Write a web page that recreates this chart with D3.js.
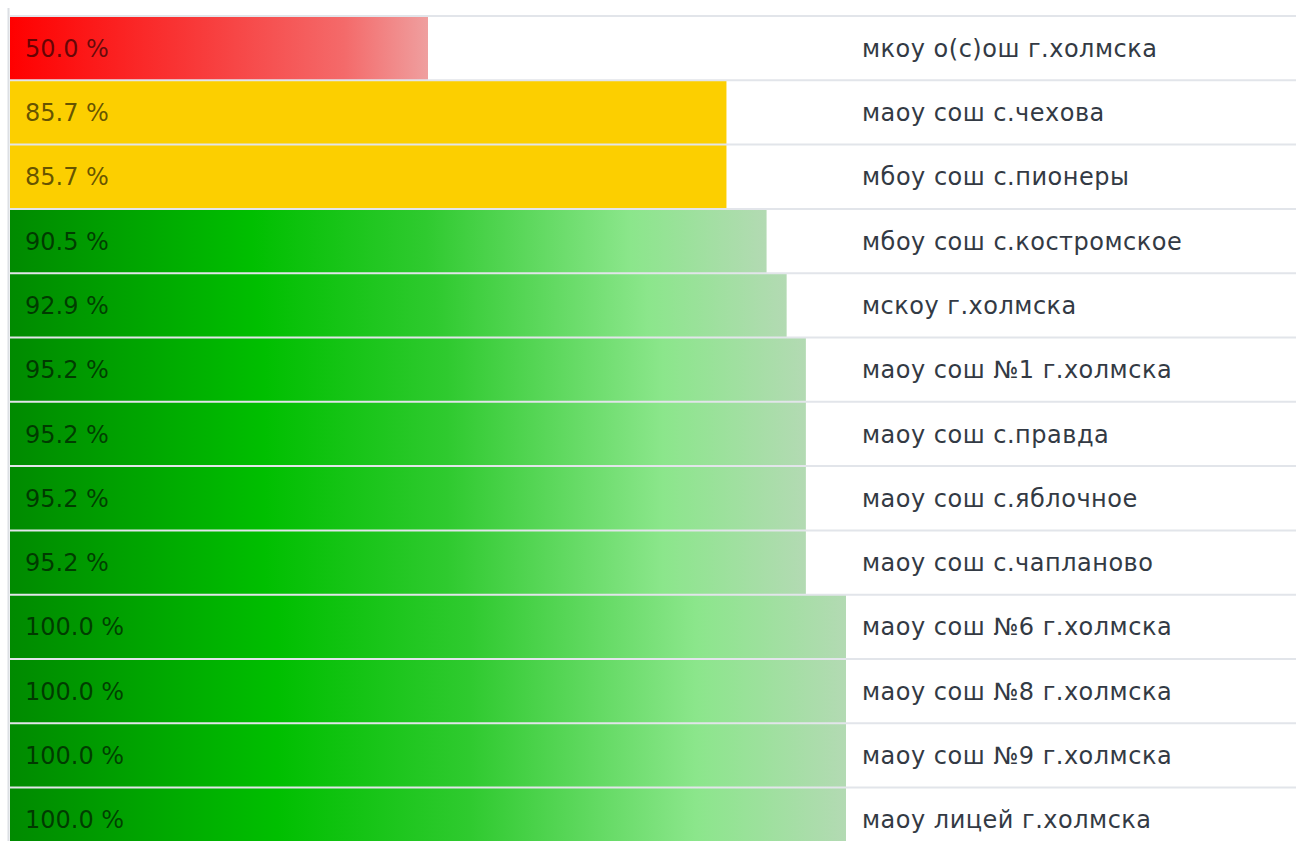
<!DOCTYPE html>
<html>
<head>
<meta charset="utf-8">
<script src="https://cdn.jsdelivr.net/npm/d3@7"></script>
<style>
  body { margin: 0; background: #fff; }
  svg { display: block; font-family: "DejaVu Sans", "Noto Sans", sans-serif; }
</style>
</head>
<body>
<script>
// schools, top to bottom
const schools = [
  "мкоу о(с)ош г.холмска",
  "маоу сош с.чехова",
  "мбоу сош с.пионеры",
  "мбоу сош с.костромское",
  "мскоу г.холмска",
  "маоу сош №1 г.холмска",
  "маоу сош с.правда",
  "маоу сош с.яблочное",
  "маоу сош с.чапланово",
  "маоу сош №6 г.холмска",
  "маоу сош №8 г.холмска",
  "маоу сош №9 г.холмска",
  "маоу лицей г.холмска"
];
const percents = [50.0, 85.7, 85.7, 90.5, 92.9, 95.2, 95.2, 95.2, 95.2, 100.0, 100.0, 100.0, 100.0];
const levels = ["red", "yellow", "yellow", "green", "green", "green", "green", "green", "green", "green", "green", "green", "green"];

const width = 1296, height = 841;
const rowH = 64.3;
const chartTop = 16;

const svg = d3.select("body").append("svg")
  .attr("width", width)
  .attr("height", height);

const defs = svg.append("defs");

const redGrad = defs.append("linearGradient").attr("id", "g-red");
[[0, "#ff0000"], [0.45, "#f83a3a"], [0.8, "#f46a6a"], [1, "#ef9f9f"]].forEach(s =>
  redGrad.append("stop").attr("offset", s[0]).attr("stop-color", s[1]));

const greenGrad = defs.append("linearGradient").attr("id", "g-green");
[[0, "#008a00"], [0.32, "#00bf00"], [0.55, "#2fca2f"], [0.82, "#8be68b"], [1, "#b3dab3"]].forEach(s =>
  greenGrad.append("stop").attr("offset", s[0]).attr("stop-color", s[1]));

const fills = { red: "url(#g-red)", yellow: "#fccf00", green: "url(#g-green)" };

const x = d3.scaleLinear().domain([0, 100]).range([10, 846]);
const y = d3.scaleBand().domain(schools).range([chartTop, chartTop + rowH * schools.length]);

const rows = schools.map((s, i) => ({ name: s, value: percents[i], level: levels[i] }));

// bars
svg.selectAll("rect.bar")
  .data(rows)
  .join("rect")
  .attr("class", "bar")
  .attr("x", x(0))
  .attr("y", d => y(d.name))
  .attr("width", d => x(d.value) - x(0))
  .attr("height", y.bandwidth())
  .attr("fill", d => fills[d.level]);

// row separators
svg.selectAll("line.sep")
  .data(schools)
  .join("line")
  .attr("class", "sep")
  .attr("x1", x(0))
  .attr("x2", width)
  .attr("y1", d => y(d))
  .attr("y2", d => y(d))
  .attr("stroke", "#e2e5ea")
  .attr("stroke-width", 2);

// left border
svg.append("line")
  .attr("x1", 8.5).attr("x2", 8.5)
  .attr("y1", 8).attr("y2", height)
  .attr("stroke", "#dcdfe4")
  .attr("stroke-width", 2);

// percent labels
svg.selectAll("text.pct")
  .data(rows)
  .join("text")
  .attr("class", "pct")
  .attr("x", 25)
  .attr("y", d => y(d.name) + y.bandwidth() / 2)
  .attr("dy", "0.36em")
  .attr("font-size", 24)
  .attr("fill", "rgba(0,0,0,0.6)")
  .text(d => d.value.toFixed(1) + " %");

// school names
svg.selectAll("text.name")
  .data(rows)
  .join("text")
  .attr("class", "name")
  .attr("x", 862)
  .attr("y", d => y(d.name) + y.bandwidth() / 2)
  .attr("dy", "0.36em")
  .attr("font-size", 24)
  .attr("letter-spacing", 0.5)
  .attr("fill", "#333a44")
  .text(d => d.name);
</script>
</body>
</html>
